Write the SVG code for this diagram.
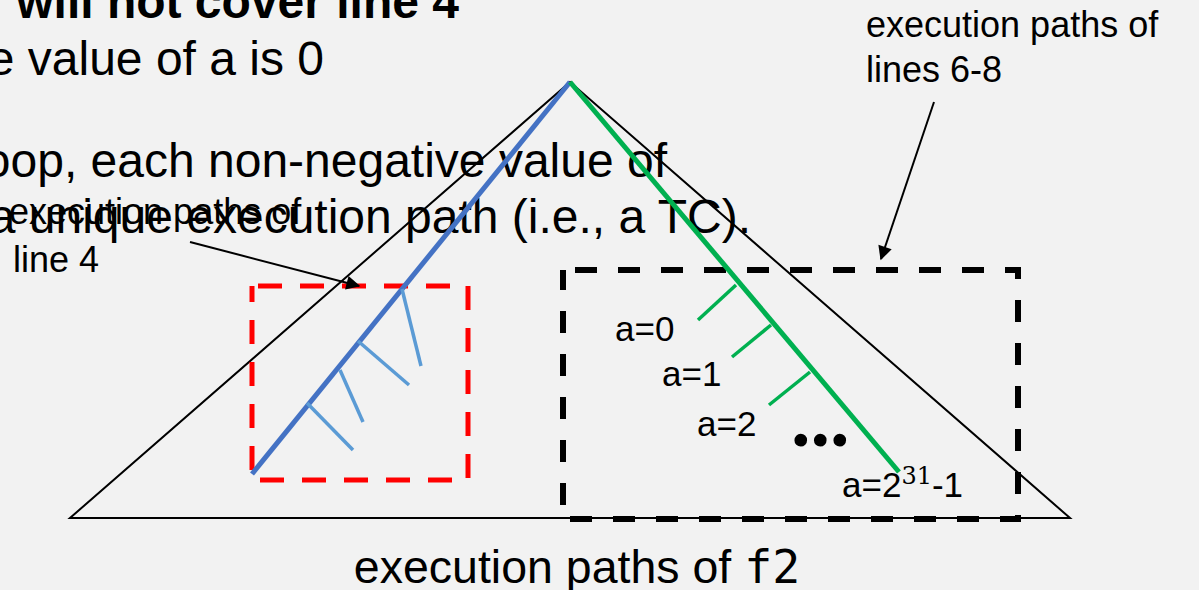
<svg xmlns="http://www.w3.org/2000/svg" width="1199" height="590" viewBox="0 0 1199 590">
<defs>
<style>
.t{font-family:"Liberation Sans",Arial,sans-serif;fill:#000}
.big{font-size:48px}
.lbl{font-size:36px}
.val{font-size:35px}
.blue{stroke:#4472c4;stroke-width:5;stroke-linecap:butt}
.green{stroke:#00b050;stroke-width:5}
.lb{stroke:#5b9bd5;stroke-width:3.5}
.gb{stroke:#00b050;stroke-width:3.5}
.arr{stroke:#000;stroke-width:2;fill:none}
</style>
<marker id="ah" viewBox="0 0 10 10" refX="9" refY="5" markerWidth="8" markerHeight="7" orient="auto" markerUnits="strokeWidth">
<path d="M0,0 L10,5 L0,10 z" fill="#000"/>
</marker>
</defs>
<rect width="1199" height="590" fill="#f2f2f2"/>
<g id="slide-text">
<text class="t big" x="459" y="18" font-weight="bold" text-anchor="end">will not cover line 4</text>
<text class="t big" x="324" y="75" text-anchor="end">e value of a is 0</text>
<text class="t big" x="667" y="177" text-anchor="end">oop, each non-negative value of</text>
<text class="t big" x="751" y="233" text-anchor="end">a unique execution path (i.e., a TC).</text>
</g>
<g id="tree">
<path d="M570,82 L70,518 L1070,518 Z" fill="none" stroke="#000" stroke-width="2"/>
</g>
<g id="line4-box">
<rect x="252" y="286" width="216" height="194" fill="none" stroke="#ff0000" stroke-width="5" stroke-dasharray="24 18" stroke-dashoffset="-6"/>
</g>
<g id="lines68-box">
<rect x="563" y="270" width="455" height="249" fill="none" stroke="#000" stroke-width="6" stroke-dasharray="22 21" stroke-dashoffset="-12"/>
</g>
<g id="blue-path">
<line class="blue" x1="570" y1="82" x2="252" y2="474"/>
<line class="lb" x1="402" y1="289" x2="421" y2="366"/>
<line class="lb" x1="358" y1="341" x2="409" y2="385"/>
<line class="lb" x1="340" y1="370" x2="363" y2="422"/>
<line class="lb" x1="307" y1="403" x2="353" y2="450"/>
</g>
<g id="green-path">
<line class="green" x1="570" y1="82" x2="899" y2="472"/>
<line class="gb" x1="736" y1="285" x2="698" y2="320"/>
<line class="gb" x1="771" y1="325" x2="732" y2="357"/>
<line class="gb" x1="810" y1="372" x2="769" y2="405"/>
</g>
<g id="values">
<text class="t val" x="615" y="341">a=0</text>
<text class="t val" x="662" y="386">a=1</text>
<text class="t val" x="697" y="436">a=2</text>
<text x="791" y="446" font-family="'Liberation Serif','Times New Roman',serif" font-size="78" font-weight="bold" fill="#000">...</text>
<text class="t val" x="842" y="497">a=2<tspan font-family="'DejaVu Serif',serif" font-size="24" dy="-13">31</tspan><tspan dy="13">-1</tspan></text>
</g>
<g id="label-line4">
<text class="t lbl" x="9" y="224">execution paths of</text>
<text class="t lbl" x="13" y="272">line 4</text>
</g>
<g id="label-lines68">
<text class="t lbl" x="866" y="37">execution paths of</text>
<text class="t lbl" x="866" y="82">lines 6-8</text>
</g>
<g id="title">
<text class="t" x="577" y="583" font-size="46.5" text-anchor="middle">execution paths of <tspan font-family="'DejaVu Sans Mono',monospace">f2</tspan></text>
</g>
<g id="connectors">
<line class="arr" x1="190" y1="242" x2="359" y2="286" marker-end="url(#ah)"/>
<line class="arr" x1="934" y1="102" x2="881" y2="259" marker-end="url(#ah)"/>
</g>
</svg>
